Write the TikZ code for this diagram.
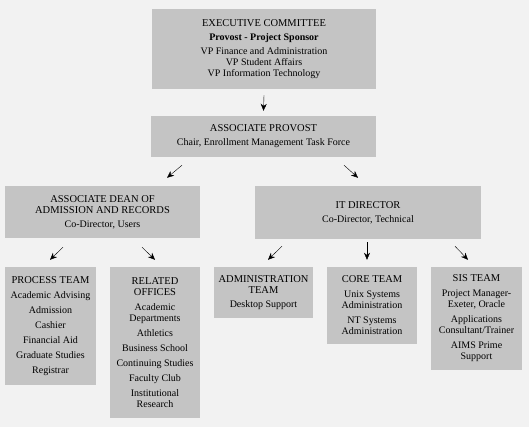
\documentclass[tikz,border=0pt]{standalone}
\usepackage{fontspec}
\setmainfont{Liberation Serif}
\usetikzlibrary{arrows.meta}
\definecolor{boxgray}{gray}{0.77}
\definecolor{paper}{gray}{0.95}
\newcommand{\ttl}[1]{{\fontsize{10.5}{11.5}\selectfont #1}}

\begin{document}
\begin{tikzpicture}[x=1pt,y=-1pt,
	unit/.style={fill=boxgray,inner sep=0pt,align=center,font=\fontsize{10}{11}\selectfont},
	arr/.style={-{Stealth[length=7pt,width=6pt]},thin,black}]
	\fill[paper] (0,0) rectangle (529,427);
	\useasboundingbox (0,0) rectangle (529,427);

	%BOXES
	\node[unit,minimum width=224,minimum height=80] (exec) at (264,49)
		{\ttl{EXECUTIVE COMMITTEE}\\[3pt] \textbf{Provost - Project Sponsor}\\[3pt]
		 VP Finance and Administration\\ VP Student Affairs\\ VP Information Technology};
	\node[unit,minimum width=225,minimum height=41] (prov) at (263.5,136.5)
		{\ttl{ASSOCIATE PROVOST}\\[3pt] Chair, Enrollment Management Task Force};
	\node[unit,minimum width=195,minimum height=52] (dean) at (102.5,212)
		{\ttl{ASSOCIATE DEAN OF}\\ \ttl{ADMISSION AND RECORDS}\\[3pt] Co-Director, Users};
	\node[unit,minimum width=226,minimum height=53] (itdir) at (368,212.5)
		{\ttl{IT DIRECTOR}\\[3pt] Co-Director, Technical};
	%
	\node[unit,minimum width=91,minimum height=118] (process) at (50.5,326)
		{\ttl{PROCESS TEAM}\\[4pt] Academic Advising\\[4pt] Admission\\[4pt] Cashier\\[4pt]
		 Financial Aid\\[4pt] Graduate Studies\\[4pt] Registrar};
	\node[unit,minimum width=90,minimum height=151] (related) at (155,342.5)
		{\ttl{RELATED}\\ \ttl{OFFICES}\\[4pt] Academic\\ Departments\\[4pt] Athletics\\[4pt]
		 Business School\\[4pt] Continuing Studies\\[4pt] Faculty Club\\[4pt] Institutional\\ Research};
	\node[unit,minimum width=99,minimum height=51] (admin) at (263.5,292.5)
		{\ttl{ADMINISTRATION}\\ \ttl{TEAM}\\[3pt] Desktop Support};
	\node[unit,minimum width=90,minimum height=77] (core) at (372,305.5)
		{\ttl{CORE TEAM}\\[4pt] Unix Systems\\ Administration\\[4pt] NT Systems\\ Administration};
	\node[unit,minimum width=91,minimum height=103] (sis) at (476.5,318.5)
		{\ttl{SIS TEAM}\\[4pt] Project Manager-\\ Exeter, Oracle\\[4pt] Applications\\ Consultant/Trainer\\[4pt]
		 AIMS Prime\\ Support};

	%ARROWS
	\draw[arr] ([yshift=-6]exec.south) -- ([yshift=5]prov.north);
	\draw[arr] ([shift={(-81.5,8)}]prov.south) -- ([shift={(64.5,-8)}]dean.north);
	\draw[arr] ([shift={(80.5,8)}]prov.south) -- ([shift={(-10,-8)}]itdir.north);
	%
	\draw[arr] ([shift={(-39.5,9)}]dean.south) -- ([shift={(-0.5,-7)}]process.north);
	\draw[arr] ([shift={(39.5,9)}]dean.south) -- ([shift={(0,-7)}]related.north);
	%
	\draw[arr] ([shift={(-86,7)}]itdir.south) -- ([shift={(4.5,-7)}]admin.north);
	\draw[arr] ([shift={(-1,3)}]itdir.south) -- ([shift={(-5,-7)}]core.north);
	\draw[arr] ([shift={(87,7)}]itdir.south) -- ([shift={(-8.5,-7)}]sis.north);
\end{tikzpicture}
\end{document}
